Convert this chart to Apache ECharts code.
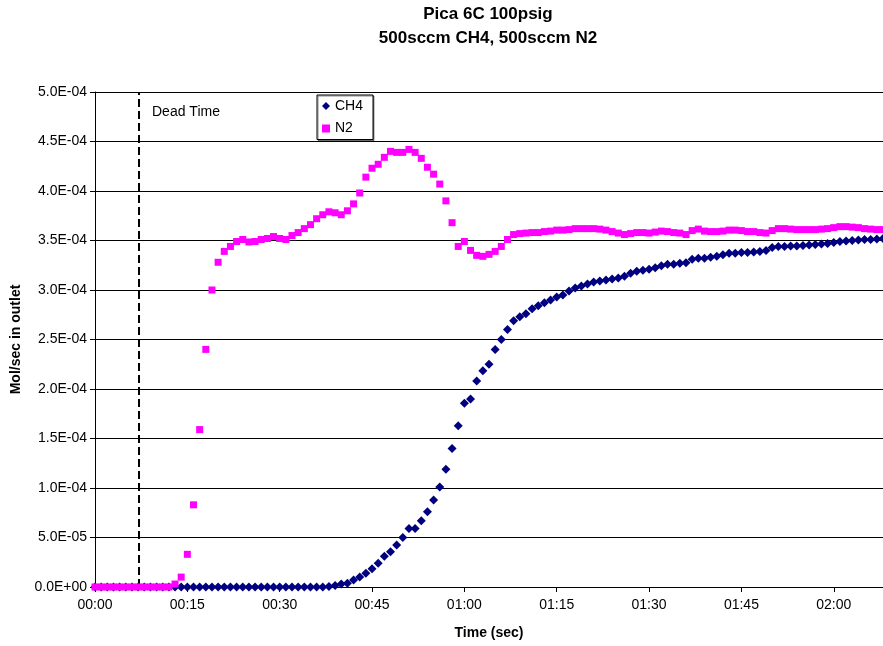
<!DOCTYPE html>
<html>
<head>
<meta charset="utf-8">
<title>Pica 6C 100psig</title>
<script src="https://cdn.jsdelivr.net/npm/echarts@6/dist/echarts.min.js"></script>
<style>
  html, body { margin: 0; padding: 0; background: #fff; }
  #chart { width: 883px; height: 646px; }
</style>
</head>
<body>
<div id="chart"></div>
<script>
// Sample times (seconds after start), one reading per second
const timeSec = [
  0, 1, 2, 3, 4, 5, 6, 7, 8, 9,
  10, 11, 12, 13, 14, 15, 16, 17, 18, 19,
  20, 21, 22, 23, 24, 25, 26, 27, 28, 29,
  30, 31, 32, 33, 34, 35, 36, 37, 38, 39,
  40, 41, 42, 43, 44, 45, 46, 47, 48, 49,
  50, 51, 52, 53, 54, 55, 56, 57, 58, 59,
  60, 61, 62, 63, 64, 65, 66, 67, 68, 69,
  70, 71, 72, 73, 74, 75, 76, 77, 78, 79,
  80, 81, 82, 83, 84, 85, 86, 87, 88, 89,
  90, 91, 92, 93, 94, 95, 96, 97, 98, 99,
  100, 101, 102, 103, 104, 105, 106, 107, 108, 109,
  110, 111, 112, 113, 114, 115, 116, 117, 118, 119,
  120, 121, 122, 123, 124, 125, 126, 127, 128
];

// Outlet flow, in units of 1e-4 mol/sec
const UNIT = 1e-4;

const ch4 = [
  0, 0, 0, 0, 0, 0, 0, 0, 0, 0,
  0, 0, 0, 0, 0, 0, 0, 0, 0, 0,
  0, 0, 0, 0, 0, 0, 0, 0, 0, 0,
  0, 0, 0, 0, 0, 0, 0, 0, 0.005, 0.015,
  0.03, 0.037, 0.07, 0.10, 0.14, 0.185, 0.24, 0.31, 0.357, 0.424,
  0.50, 0.59, 0.59, 0.67, 0.76, 0.88, 1.01, 1.19, 1.40, 1.63,
  1.855, 1.90, 2.08, 2.185, 2.25, 2.40, 2.50, 2.60, 2.69, 2.73,
  2.76, 2.81, 2.84, 2.87, 2.90, 2.93, 2.95, 2.99, 3.02, 3.04,
  3.06, 3.08, 3.09, 3.10, 3.11, 3.12, 3.14, 3.17, 3.19, 3.20,
  3.21, 3.225, 3.245, 3.26, 3.26, 3.27, 3.275, 3.31, 3.32, 3.32,
  3.33, 3.34, 3.355, 3.37, 3.37, 3.38, 3.38, 3.385, 3.39, 3.40,
  3.43, 3.44, 3.44, 3.445, 3.445, 3.45, 3.455, 3.46, 3.465, 3.47,
  3.48, 3.49, 3.495, 3.50, 3.505, 3.51, 3.51, 3.515, 3.52
];

const n2 = [
  0, 0, 0, 0, 0, 0, 0, 0, 0, 0,
  0, 0, 0, 0.03, 0.10, 0.33, 0.83, 1.59, 2.40, 3.00,
  3.28, 3.39, 3.44, 3.49, 3.51, 3.485, 3.49, 3.51, 3.52, 3.54,
  3.52, 3.51, 3.55, 3.58, 3.62, 3.66, 3.72, 3.76, 3.79, 3.78,
  3.76, 3.80, 3.87, 3.98, 4.14, 4.23, 4.27, 4.34, 4.40, 4.39,
  4.39, 4.42, 4.39, 4.33, 4.24, 4.17, 4.07, 3.90, 3.68, 3.44,
  3.49, 3.40, 3.35, 3.34, 3.36, 3.39, 3.44, 3.51, 3.56, 3.57,
  3.575, 3.58, 3.58, 3.59, 3.595, 3.605, 3.605, 3.61, 3.62, 3.62,
  3.62, 3.62, 3.615, 3.605, 3.59, 3.575, 3.56, 3.57, 3.58, 3.58,
  3.575, 3.585, 3.595, 3.59, 3.58, 3.575, 3.56, 3.60, 3.615, 3.595,
  3.59, 3.59, 3.595, 3.605, 3.605, 3.60, 3.59, 3.59, 3.58, 3.575,
  3.60, 3.62, 3.62, 3.615, 3.61, 3.61, 3.61, 3.61, 3.615, 3.62,
  3.63, 3.64, 3.64, 3.635, 3.63, 3.62, 3.615, 3.61, 3.61
];

// Dead time marker (seconds) and its vertical span (mol/sec)
const deadTimeSec = 7.15;
const deadTimeSpan = [0, 5e-4];

const seriesNames = ['CH4', 'N2'];
const titleLines = ['Pica 6C 100psig', '500sccm CH4, 500sccm N2'];

const FONT = '"Liberation Sans", Arial, sans-serif';

function pairs(xs, ys) {
  return xs.map((t, i) => [t, ys[i] * UNIT]);
}

function mmss(v) {
  const m = Math.floor(v / 60);
  const s = Math.round(v - m * 60);
  return String(m).padStart(2, '0') + ':' + String(s).padStart(2, '0');
}

function sci(v) {
  if (Math.abs(v) < 1e-12) return '0.0E+00';
  const parts = v.toExponential(1).split('e');
  const e = parseInt(parts[1], 10);
  return parts[0] + 'E' + (e < 0 ? '-' : '+') + String(Math.abs(e)).padStart(2, '0');
}

const chart = echarts.init(document.getElementById('chart'), null, { renderer: 'canvas' });

chart.setOption({
  backgroundColor: '#ffffff',
  animation: false,
  title: {
    text: titleLines.join('\n'),
    left: 488,
    top: 2,
    padding: 0,
    textAlign: 'center',
    textStyle: {
      fontFamily: FONT,
      fontSize: 17,
      fontWeight: 'bold',
      color: '#000',
      lineHeight: 24
    }
  },
  legend: {
    data: [
      { name: seriesNames[0], icon: 'diamond' },
      { name: seriesNames[1], icon: 'rect' }
    ],
    orient: 'vertical',
    left: 317,
    top: 95,
    itemWidth: 8,
    itemHeight: 8,
    itemGap: 6.5,
    padding: [3, 10, 3, 5],
    backgroundColor: '#fff',
    borderColor: '#000',
    borderWidth: 1,
    shadowColor: 'rgba(0,0,0,0.45)',
    shadowOffsetX: 1,
    shadowOffsetY: 1,
    textStyle: { fontFamily: FONT, fontSize: 14, color: '#000', lineHeight: 16 }
  },
  graphic: [{
    type: 'text',
    left: 152,
    top: 105,
    style: { text: 'Dead Time', font: '14px ' + FONT, fill: '#000' }
  }],
  grid: { left: 95, top: 92, right: 0, bottom: 59, containLabel: false },
  xAxis: {
    type: 'value',
    min: 0,
    max: 128,
    interval: 15,
    name: 'Time (sec)',
    nameLocation: 'middle',
    nameGap: 39,
    nameTextStyle: { fontFamily: FONT, fontSize: 14, fontWeight: 'bold', color: '#000' },
    axisLine: { show: true, onZero: false, lineStyle: { color: '#000', width: 1 } },
    axisTick: { show: true, inside: false, length: 5, lineStyle: { color: '#000' } },
    axisLabel: {
      formatter: mmss,
      fontFamily: FONT, fontSize: 14, color: '#000', margin: 11,
      showMaxLabel: false
    },
    splitLine: { show: false }
  },
  yAxis: {
    type: 'value',
    min: 0,
    max: 5e-4,
    interval: 5e-5,
    name: 'Mol/sec in outlet',
    nameLocation: 'middle',
    nameRotate: 90,
    nameGap: 72,
    nameTextStyle: { fontFamily: FONT, fontSize: 14, fontWeight: 'bold', color: '#000' },
    axisLine: { show: true, lineStyle: { color: '#000', width: 1 } },
    axisTick: { show: true, inside: false, length: 5, lineStyle: { color: '#000' } },
    axisLabel: { formatter: sci, fontFamily: FONT, fontSize: 14, color: '#000', margin: 8 },
    splitLine: { show: true, lineStyle: { color: '#000', width: 1 } }
  },
  series: [
    {
      name: 'Dead Time',
      type: 'line',
      data: deadTimeSpan.map(v => [deadTimeSec, v]),
      symbol: 'none',
      silent: true,
      lineStyle: { color: '#000', width: 2, type: [8, 4] },
      z: 1
    },
    {
      name: seriesNames[0],
      type: 'scatter',
      data: pairs(timeSec, ch4),
      symbol: 'diamond',
      symbolSize: [9, 9],
      itemStyle: { color: '#000080', opacity: 1 },
      z: 2
    },
    {
      name: seriesNames[1],
      type: 'scatter',
      data: pairs(timeSec, n2),
      symbol: 'rect',
      symbolSize: 7,
      itemStyle: { color: '#FF00FF', opacity: 1 },
      z: 3
    }
  ]
});
</script>
</body>
</html>
